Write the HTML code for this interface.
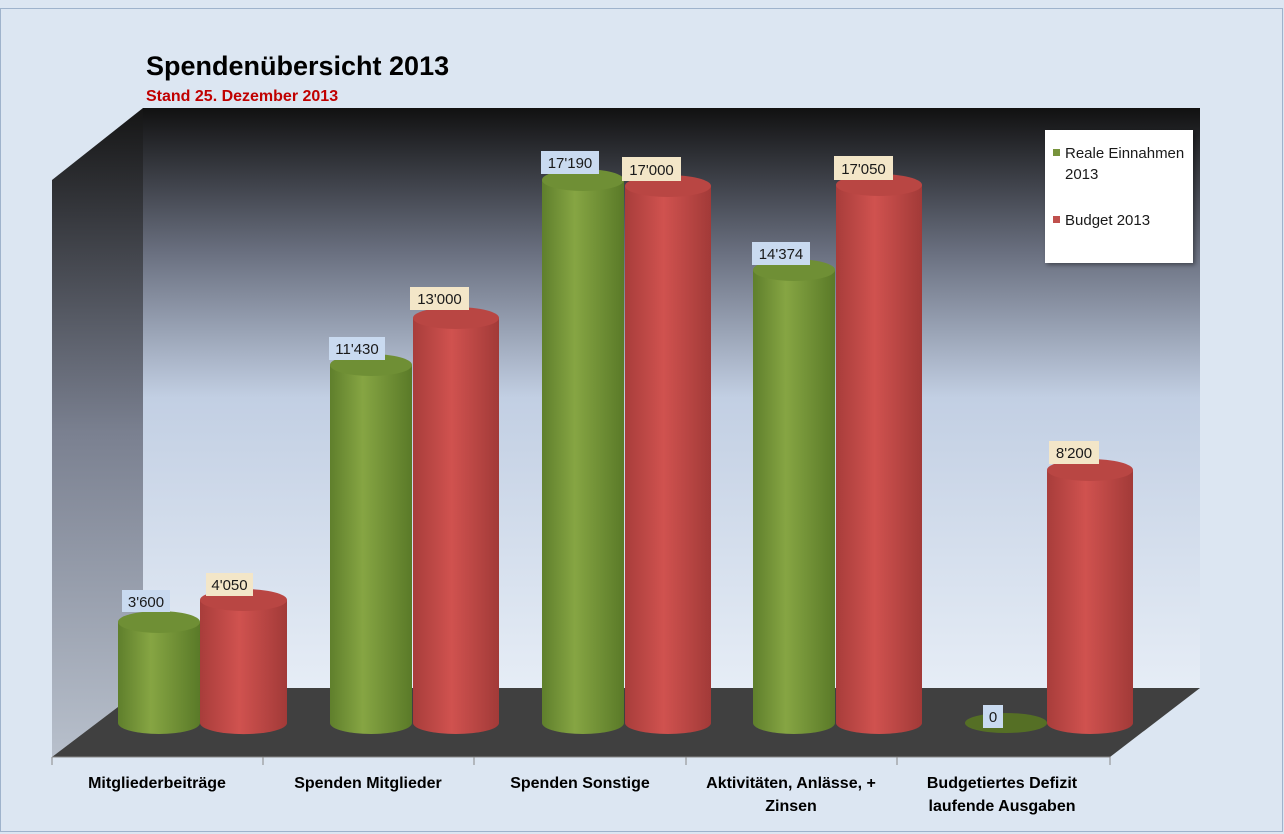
<!DOCTYPE html>
<html><head><meta charset="utf-8"><style>
html,body{margin:0;padding:0;background:#dce6f2}
svg{display:block}
text{font-family:"Liberation Sans",sans-serif}
</style></head><body>
<svg width="1284" height="834" viewBox="0 0 1284 834">
<defs>
<linearGradient id="wall" x1="0" y1="0" x2="0" y2="1">
<stop offset="0" stop-color="#111"/>
<stop offset="0.25" stop-color="#6a7080"/>
<stop offset="0.5" stop-color="#c2cfe3"/>
<stop offset="1" stop-color="#e6edf6"/>
</linearGradient>
<linearGradient id="side" x1="0" y1="0" x2="0" y2="1">
<stop offset="0" stop-color="#151515"/>
<stop offset="0.5" stop-color="#7a8090"/>
<stop offset="1" stop-color="#b8c0cc"/>
</linearGradient>
<linearGradient id="g" x1="0" x2="1">
<stop offset="0" stop-color="#5f7f2c"/>
<stop offset="0.4" stop-color="#86a543"/>
<stop offset="1" stop-color="#5a7a28"/>
</linearGradient>
<linearGradient id="r" x1="0" x2="1">
<stop offset="0" stop-color="#a83d3b"/>
<stop offset="0.45" stop-color="#d0524f"/>
<stop offset="1" stop-color="#a23a38"/>
</linearGradient>
<filter id="sh"><feDropShadow dx="2" dy="2" stdDeviation="2" flood-opacity="0.4"/></filter>
</defs>
<rect x="0.5" y="8.5" width="1282" height="823" fill="#dce6f2" stroke="#9fb3cc"/>
<rect x="143" y="108" width="1057" height="580" fill="url(#wall)"/>
<polygon points="52,180 143,108 143,688 52,757" fill="url(#side)"/>
<polygon points="52,757 143,688 1200,688 1110,757" fill="#404040"/>
<line x1="52" y1="757" x2="1110" y2="757" stroke="#888"/>
<g stroke="#888"><line x1="52" y1="757" x2="52" y2="765"/><line x1="263" y1="757" x2="263" y2="765"/><line x1="474" y1="757" x2="474" y2="765"/><line x1="686" y1="757" x2="686" y2="765"/><line x1="897" y1="757" x2="897" y2="765"/><line x1="1110" y1="757" x2="1110" y2="765"/></g>

<!-- cylinders -->
<g>
<path d="M118,622 V723 A41,11 0 0 0 200,723 V622 Z" fill="url(#g)"/><ellipse cx="159" cy="622" rx="41" ry="11" fill="#6f8f35"/>
<path d="M200,600 V723 A43,11 0 0 0 287,723 V600 Z" fill="url(#r)"/><ellipse cx="243.5" cy="600" rx="43.5" ry="11" fill="#b94643"/>

<path d="M330,365 V723 A41,11 0 0 0 412,723 V365 Z" fill="url(#g)"/><ellipse cx="371" cy="365" rx="41" ry="11" fill="#6f8f35"/>
<path d="M413,318 V723 A43,11 0 0 0 499,723 V318 Z" fill="url(#r)"/><ellipse cx="456" cy="318" rx="43" ry="11" fill="#b94643"/>

<path d="M542,180 V723 A41,11 0 0 0 624,723 V180 Z" fill="url(#g)"/><ellipse cx="583" cy="180" rx="41" ry="11" fill="#6f8f35"/>
<path d="M625,186 V723 A43,11 0 0 0 711,723 V186 Z" fill="url(#r)"/><ellipse cx="668" cy="186" rx="43" ry="11" fill="#b94643"/>

<path d="M753,270 V723 A41,11 0 0 0 835,723 V270 Z" fill="url(#g)"/><ellipse cx="794" cy="270" rx="41" ry="11" fill="#6f8f35"/>
<path d="M836,185 V723 A43,11 0 0 0 922,723 V185 Z" fill="url(#r)"/><ellipse cx="879" cy="185" rx="43" ry="11" fill="#b94643"/>

<ellipse cx="1006" cy="723" rx="41" ry="10" fill="#556f25"/>
<path d="M1047,470 V723 A43,11 0 0 0 1133,723 V470 Z" fill="url(#r)"/><ellipse cx="1090" cy="470" rx="43" ry="11" fill="#b94643"/>
</g>

<!-- value labels -->
<g font-size="15" fill="#1a1a1a">
<rect x="122" y="590" width="48" height="22" fill="#c9daf0"/><text x="146" y="607" text-anchor="middle">3'600</text>
<rect x="206" y="573" width="47" height="23" fill="#f3e6c8"/><text x="229.5" y="590" text-anchor="middle">4'050</text>
<rect x="329" y="337" width="56" height="23" fill="#c9daf0"/><text x="357" y="354" text-anchor="middle">11'430</text>
<rect x="410" y="287" width="59" height="23" fill="#f3e6c8"/><text x="439.5" y="304" text-anchor="middle">13'000</text>
<rect x="541" y="151" width="58" height="23" fill="#c9daf0"/><text x="570" y="168" text-anchor="middle">17'190</text>
<rect x="622" y="157" width="59" height="24" fill="#f3e6c8"/><text x="651.5" y="175" text-anchor="middle">17'000</text>
<rect x="752" y="242" width="58" height="23" fill="#c9daf0"/><text x="781" y="259" text-anchor="middle">14'374</text>
<rect x="834" y="156" width="59" height="24" fill="#f3e6c8"/><text x="863.5" y="174" text-anchor="middle">17'050</text>
<rect x="983" y="705" width="20" height="23" fill="#c9daf0"/><text x="993" y="722" text-anchor="middle">0</text>
<rect x="1049" y="441" width="50" height="23" fill="#f3e6c8"/><text x="1074" y="458" text-anchor="middle">8'200</text>
</g>

<!-- legend -->
<rect x="1045" y="130" width="148" height="133" fill="#fff" filter="url(#sh)"/>
<rect x="1053" y="149" width="7" height="7" fill="#77933c"/>
<text x="1065" y="158" font-size="15" fill="#1a1a1a">Reale Einnahmen</text>
<text x="1065" y="179" font-size="15" fill="#1a1a1a">2013</text>
<rect x="1053" y="216" width="7" height="7" fill="#c0504d"/>
<text x="1065" y="225" font-size="15" fill="#1a1a1a">Budget 2013</text>

<!-- titles -->
<text x="146" y="75" font-size="27" font-weight="bold" fill="#000">Spendenübersicht 2013</text>
<text x="146" y="101" font-size="16" font-weight="bold" fill="#c00000">Stand 25. Dezember 2013</text>

<!-- category labels -->
<g font-size="16" font-weight="bold" fill="#000" text-anchor="middle">
<text x="157" y="788">Mitgliederbeiträge</text>
<text x="368" y="788">Spenden Mitglieder</text>
<text x="580" y="788">Spenden Sonstige</text>
<text x="791" y="788">Aktivitäten, Anlässe, +</text>
<text x="791" y="811">Zinsen</text>
<text x="1002" y="788">Budgetiertes Defizit</text>
<text x="1002" y="811">laufende Ausgaben</text>
</g>
</svg>
</body></html>
